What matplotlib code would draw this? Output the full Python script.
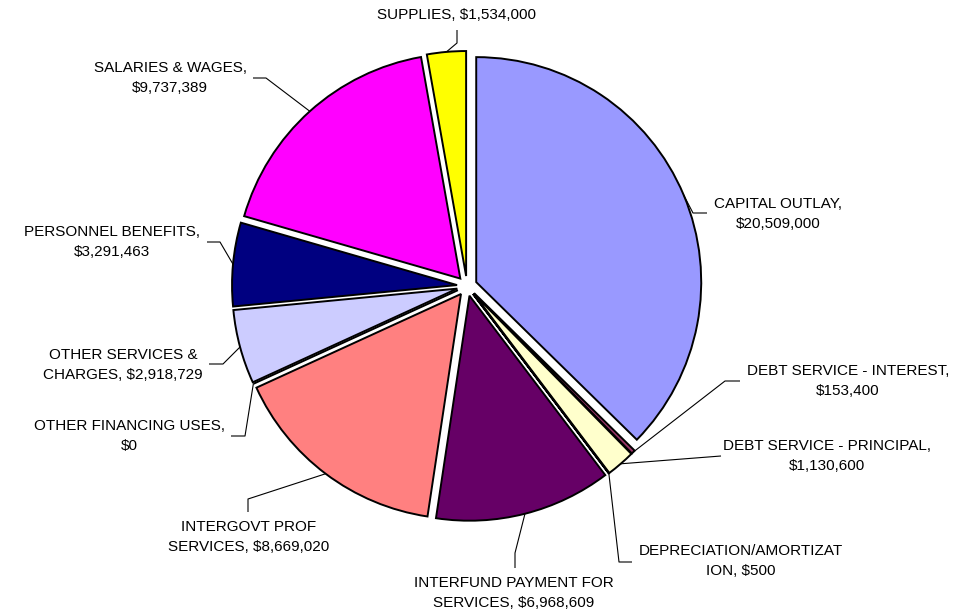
import textwrap

import matplotlib
matplotlib.use("Agg")
import matplotlib.pyplot as plt
import numpy as np

# expense categories, clockwise from 12 o'clock
categories = [
    "CAPITAL OUTLAY",
    "DEBT SERVICE - INTEREST",
    "DEBT SERVICE - PRINCIPAL",
    "DEPRECIATION/AMORTIZATION",
    "INTERFUND PAYMENT FOR SERVICES",
    "INTERGOVT PROF SERVICES",
    "OTHER FINANCING USES",
    "OTHER SERVICES & CHARGES",
    "PERSONNEL BENEFITS",
    "SALARIES & WAGES",
    "SUPPLIES",
]
amounts = [20509000, 153400, 1130600, 500, 6968609, 8669020, 0,
           2918729, 3291463, 9737389, 1534000]
colors = ["#9999FF", "#993366", "#FFFFCC", "#CCFFFF", "#660066", "#FF8080",
          "#0066CC", "#CCCCFF", "#000080", "#FF00FF", "#FFFF00"]

# layout (pixels in a 968x615 image)
W, H = 968, 615
CX, CY, R = 467, 286, 225
EXPLODE = 10 / R
wrap_width = [16, 25, 26, 22, 21, 20, 21, 19, 19, 17, 30]
label_pos = [(778, 214), (848, 381), (827, 456), (741, 561), (514, 593),
             (249, 537), (129, 436), (123, 365), (112, 242), (170, 78), (456, 15)]
# intermediate points of each leader line (after the wedge anchor)
leader_pts = [
    [(693, 213), (707, 213)],
    [(725, 381), (740, 381)],
    [(721, 456)],
    [(619, 562), (632, 562)],
    [(515, 553), (515, 568)],
    [(248, 499), (248, 512)],
    [(245, 436), (231, 436)],
    [(223, 364), (209, 364)],
    [(220, 242), (207, 242)],
    [(266, 78), (253, 78)],
    [(457, 43), (457, 30)],
]


def to_data(px, py):
    return (px - CX) / R, (CY - py) / R


fig = plt.figure(figsize=(W / 100, H / 100), dpi=100)
ax = fig.add_axes([0, 0, 1, 1])
ax.set_aspect("equal")
ax.axis("off")

wedges, _ = ax.pie(
    amounts, colors=colors, startangle=90, counterclock=False,
    explode=[EXPLODE] * len(amounts), radius=1.0, center=(0, 0),
    wedgeprops=dict(edgecolor="black", linewidth=1.4),
)
ax.set_xlim(-CX / R, (W - CX) / R)
ax.set_ylim(-(H - CY) / R, CY / R)

for w, name, amt, ww, pos, pts in zip(wedges, categories, amounts, wrap_width,
                                       label_pos, leader_pts):
    mid = np.deg2rad((w.theta1 + w.theta2) / 2)
    ax_x = w.center[0] + w.r * np.cos(mid)
    ax_y = w.center[1] + w.r * np.sin(mid)
    path = [(ax_x, ax_y)] + [to_data(*p) for p in pts]
    xs, ys = zip(*path)
    ax.plot(xs, ys, color="black", lw=0.8, solid_capstyle="butt")

    txt = textwrap.fill(f"{name}, ${amt:,}", width=ww)
    tx, ty = to_data(*pos)
    ax.text(tx, ty, txt, ha="center", va="center", multialignment="center",
            fontsize=11, family="Liberation Sans", color="black",
            linespacing=1.6)

fig.savefig("out.png", dpi=100)
